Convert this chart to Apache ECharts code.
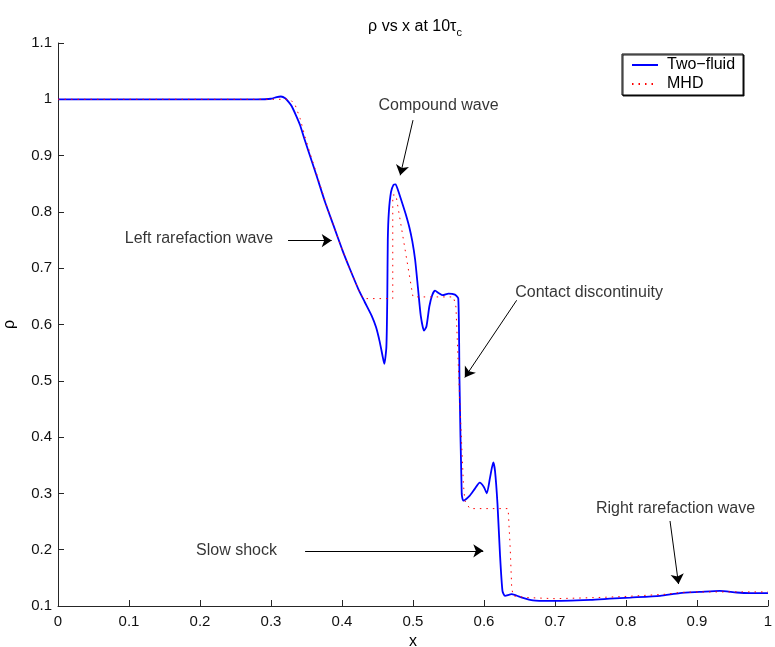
<!DOCTYPE html>
<html>
<head>
<meta charset="utf-8">
<script src="https://cdn.jsdelivr.net/npm/echarts@6/dist/echarts.min.js"></script>
<style>
  html, body { margin: 0; padding: 0; background: #fff; }
  #chart { width: 775px; height: 647px; }
</style>
</head>
<body>
<div id="chart"></div>
<script>
// Density profile rho(x) at t = 10 tau_c: two-fluid run vs. ideal MHD solution
const xTwoFluid = [
  0, 0.1, 0.2, 0.28, 0.3, 0.308, 0.314, 0.32, 0.325, 0.329, 0.335, 0.341, 0.347, 0.353,
  0.364, 0.376, 0.388, 0.4, 0.411, 0.423, 0.432, 0.442, 0.448, 0.453, 0.457, 0.4596,
  0.4625, 0.4638, 0.4645, 0.466, 0.469, 0.4725, 0.4755, 0.479, 0.485, 0.49, 0.495, 0.499,
  0.503, 0.507, 0.511, 0.5155, 0.519, 0.523, 0.527, 0.531, 0.536, 0.542, 0.55, 0.559,
  0.5638, 0.5655, 0.5686, 0.5709, 0.58, 0.587, 0.594, 0.6, 0.604, 0.6085, 0.613, 0.6155,
  0.619, 0.6225, 0.626, 0.6296, 0.639, 0.651, 0.669, 0.693, 0.75, 0.777, 0.806, 0.848,
  0.876, 0.904, 0.932, 0.956, 0.975, 1.0
];
const rhoTwoFluid = [
  1.0, 1.0, 1.0, 1.0, 1.001, 1.004, 1.005, 1.002, 0.995, 0.988, 0.972, 0.954, 0.93, 0.907,
  0.865, 0.818, 0.776, 0.734, 0.699, 0.663, 0.64, 0.615, 0.595, 0.57, 0.545, 0.53,
  0.56, 0.65, 0.75, 0.8, 0.835, 0.848, 0.849, 0.838, 0.815, 0.795, 0.772, 0.748,
  0.715, 0.665, 0.615, 0.589, 0.597, 0.632, 0.652, 0.66, 0.656, 0.652, 0.655, 0.653,
  0.646, 0.5, 0.3, 0.287, 0.296, 0.308, 0.319, 0.311, 0.3, 0.328, 0.355, 0.34,
  0.281, 0.192, 0.127, 0.118, 0.121, 0.116, 0.11, 0.109, 0.111, 0.113, 0.115, 0.118,
  0.123, 0.125, 0.127, 0.124, 0.123, 0.123
];
const xMHD = [
  0, 0.327, 0.334, 0.341, 0.348, 0.355, 0.362, 0.376, 0.388, 0.4, 0.411, 0.423, 0.43,
  0.4715, 0.4715, 0.476, 0.5, 0.557, 0.5605, 0.566, 0.571, 0.573, 0.58, 0.634, 0.637,
  0.639, 0.641, 0.66, 0.7, 0.76, 0.8, 0.857, 0.876, 0.9, 1.0
];
const rhoMHD = [
  1.0, 1.0, 0.99, 0.966, 0.933, 0.904, 0.877, 0.82, 0.776, 0.734, 0.699, 0.663, 0.646,
  0.646, 0.83, 0.83, 0.649, 0.649, 0.631, 0.46, 0.317, 0.287, 0.273, 0.273, 0.2,
  0.133, 0.118, 0.115, 0.113, 0.115, 0.117, 0.121, 0.124, 0.125, 0.125
];

// Wave annotations: label centre and arrow start/end, in data units
const noteText = ['Compound wave', 'Left rarefaction wave', 'Contact discontinuity', 'Slow shock', 'Right rarefaction wave'];
const noteX = [0.536, 0.1986, 0.748, 0.2514, 0.8697];
const noteY = [0.988, 0.752, 0.6575, 0.198, 0.273];
const arrowFrom = [[0.5, 0.963], [0.324, 0.749], [0.646, 0.643], [0.348, 0.198], [0.862, 0.251]];
const arrowTo = [[0.482, 0.865], [0.3855, 0.749], [0.573, 0.506], [0.599, 0.198], [0.874, 0.139]];

const zip = (xs, ys) => xs.map((x, i) => [x, ys[i]]);

const font = 'Liberation Sans, Arial, Helvetica, sans-serif';
const axisColor = '#262626';

const chart = echarts.init(document.getElementById('chart'), null, { renderer: 'canvas' });

chart.setOption({
  animation: false,
  backgroundColor: '#fff',
  textStyle: { fontFamily: font },
  title: {
    text: '{a|ρ vs x at 10τ}{b|c}',
    left: 410,
    textAlign: 'center',
    top: 10,
    textStyle: {
      rich: {
        a: { fontFamily: font, fontSize: 16, color: '#000', fontWeight: 'normal' },
        b: { fontFamily: font, fontSize: 11, color: '#000', padding: [12, 0, 0, 0], fontWeight: 'normal' }
      }
    }
  },
  legend: {
    data: ['Two-fluid', 'MHD'],
    formatter: n => (n === 'Two-fluid' ? 'Two\u2212fluid' : n),
    orient: 'vertical',
    left: 622,
    top: 54,
    padding: [3, 8, 3, 9],
    itemGap: 3,
    itemWidth: 26,
    itemHeight: 12,
    backgroundColor: '#fff',
    borderColor: '#000',
    borderWidth: 1,
    borderRadius: 0,
    shadowColor: 'rgba(0,0,0,0.9)',
    shadowOffsetX: 1,
    shadowOffsetY: 1,
    shadowBlur: 0,
    itemStyle: { opacity: 0 },
    textStyle: { fontFamily: font, fontSize: 16, lineHeight: 16, color: '#000', padding: [0, 0, 0, 4] }
  },
  grid: { left: 58, right: 7, top: 43, bottom: 41, containLabel: false, outerBoundsMode: 'none' },
  xAxis: {
    type: 'value',
    min: 0, max: 1, interval: 0.1,
    name: 'x',
    nameLocation: 'middle',
    nameGap: 11,
    nameTextStyle: { fontFamily: font, fontSize: 16, color: '#000', verticalAlign: 'top' },
    axisLine: { show: true, lineStyle: { color: axisColor, width: 1 } },
    axisTick: { show: true, inside: true, length: 6, lineStyle: { color: axisColor } },
    axisLabel: { fontFamily: font, fontSize: 15, color: '#111', margin: 8 },
    splitLine: { show: false }
  },
  yAxis: {
    type: 'value',
    min: 0.1, max: 1.1, interval: 0.1,
    name: 'ρ',
    nameLocation: 'middle',
    nameGap: 40,
    nameTextStyle: { fontFamily: font, fontSize: 16, color: '#000' },
    axisLine: { show: true, lineStyle: { color: axisColor, width: 1 } },
    axisTick: { show: true, inside: true, length: 6, lineStyle: { color: axisColor } },
    axisLabel: {
      fontFamily: font, fontSize: 15, color: '#111', margin: 6,
      formatter: v => String(Math.round(v * 10) / 10)
    },
    splitLine: { show: false }
  },
  series: [
    {
      name: 'Two-fluid',
      type: 'line',
      data: zip(xTwoFluid, rhoTwoFluid),
      showSymbol: false,
      symbol: 'none',
      smooth: 0.2,
      lineStyle: { color: '#0000ff', width: 1.8 },
      itemStyle: { color: '#0000ff' },
      z: 2,
      silent: true
    },
    {
      name: 'MHD',
      type: 'line',
      data: zip(xMHD, rhoMHD),
      showSymbol: false,
      symbol: 'none',
      smooth: false,
      lineStyle: { color: '#ff0000', width: 1, type: [1.5, 5] },
      itemStyle: { color: '#ff0000' },
      z: 3,
      silent: true
    },
    {
      name: 'notes',
      type: 'scatter',
      data: noteText.map((t, i) => ({ value: [noteX[i], noteY[i]], name: t })),
      symbolSize: 1,
      itemStyle: { color: 'rgba(0,0,0,0)' },
      silent: true,
      label: {
        show: true,
        position: 'inside',
        formatter: p => p.name,
        fontFamily: font,
        fontSize: 16,
        color: '#000'
      },
      z: 4
    },
    {
      name: 'arrows',
      type: 'line',
      data: [],
      silent: true,
      markLine: {
        silent: true,
        symbol: ['none', 'arrow'],
        symbolSize: 10,
        precision: 4,
        label: { show: false },
        lineStyle: { color: '#000', width: 1, type: 'solid', opacity: 1 },
        itemStyle: { color: '#000', opacity: 1 },
        emphasis: { disabled: true },
        data: arrowFrom.map((a, i) => [{ coord: a }, { coord: arrowTo[i] }])
      },
      z: 4
    }
  ]
});
</script>
</body>
</html>
